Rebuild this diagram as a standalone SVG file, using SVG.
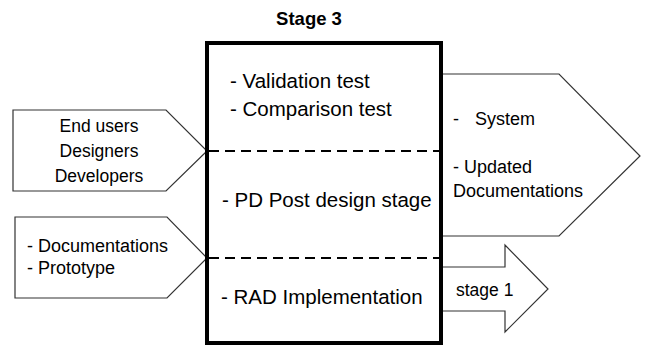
<svg xmlns="http://www.w3.org/2000/svg" width="646" height="347" viewBox="0 0 646 347">
<style>
.shape{fill:#fff;stroke:#333;stroke-width:1.2}
.t{font-family:"Liberation Sans",Arial,sans-serif;fill:#000}
.s17{font-size:17.5px}
.s18{font-size:18px}
.s20{font-size:20.5px}
.dash{stroke:#000;stroke-width:2;stroke-dasharray:10 6;fill:none}
</style>
<rect width="646" height="347" fill="#fff"/>
<text class="t" x="309" y="25" font-size="18.5" font-weight="bold" text-anchor="middle">Stage 3</text>
<g id="connectors">
<g id="inputs-users">
<polygon class="shape" points="13,110 166,110 207,151 166,191 13,191"/>
<text class="t s17" x="99" y="132" text-anchor="middle">End users</text>
<text class="t s17" x="99" y="157" text-anchor="middle">Designers</text>
<text class="t s17" x="99" y="182" text-anchor="middle">Developers</text>
</g>
<g id="inputs-docs">
<polygon class="shape" points="15,217 167,217 207,258 167,298 15,298"/>
<text class="t s18" x="27" y="252">- Documentations</text>
<text class="t s18" x="27" y="274">- Prototype</text>
</g>
<g id="output-system">
<polygon class="shape" points="430,74 559,74 640,156 559,236 430,236"/>
<text class="t s18" x="453" y="125">-</text>
<text class="t s18" x="475" y="125">System</text>
<text class="t s18" x="453" y="173">- Updated</text>
<text class="t s18" x="453" y="197">Documentations</text>
</g>
<g id="output-stage1">
<polygon class="shape" points="430,267 505,267 505,245 548,289 505,332 505,311 430,311"/>
<text class="t s17" x="456" y="296">stage 1</text>
</g>
</g>
<g id="stage3-box">
<rect x="207" y="43" width="234" height="300" fill="#fff" stroke="#000" stroke-width="4"/>
<line class="dash" x1="209" y1="151" x2="443" y2="151"/>
<line class="dash" x1="209" y1="258" x2="443" y2="258"/>
<text class="t s20" x="230" y="88">-  Validation test</text>
<text class="t s20" x="230" y="116">- Comparison test</text>
<text class="t s20" x="222" y="207">- PD Post design stage</text>
<text class="t s20" x="221" y="304">- RAD Implementation</text>
</g>
</svg>
